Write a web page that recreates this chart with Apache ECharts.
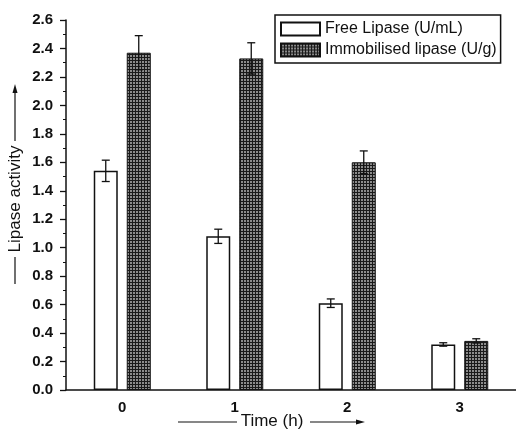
<!DOCTYPE html>
<html>
<head>
<meta charset="utf-8">
<script src="https://cdn.jsdelivr.net/npm/echarts@6/dist/echarts.min.js"></script>
<style>
  html, body { margin: 0; padding: 0; background: #fff; }
  #chart { width: 516px; height: 429px; }
</style>
</head>
<body>
<div id="chart"></div>
<script>
// data
var categories = ["0", "1", "2", "3"];
var freeLipase = [1.54, 1.08, 0.61, 0.32];
var freeErr = [0.075, 0.05, 0.03, 0.012];
var immobLipase = [2.37, 2.33, 1.60, 0.345];
var immobErr = [0.12, 0.11, 0.08, 0.015];

// checkered fill for the immobilised bars
function makePattern() {
  var c = document.createElement("canvas");
  c.width = 3;
  c.height = 3;
  var ctx = c.getContext("2d");
  ctx.fillStyle = "#1a1a1a";
  ctx.fillRect(0, 0, 3, 3);
  ctx.fillStyle = "#8c8c8c";
  ctx.fillRect(1, 1, 2, 2);
  return c;
}
var pattern = { image: makePattern(), repeat: "repeat" };

function errData(vals, errs) {
  return vals.map(function (v, i) {
    return [i, v - errs[i], v + errs[i]];
  });
}

// error bar drawn at the bar center (offset in px from category center)
function errRender(offset) {
  return function (params, api) {
    var x = api.coord([api.value(0), 0])[0] + offset;
    var lo = api.coord([api.value(0), api.value(1)])[1];
    var hi = api.coord([api.value(0), api.value(2)])[1];
    var w = 4;
    var st = { stroke: "#111", lineWidth: 1.3 };
    return {
      type: "group",
      children: [
        { type: "line", shape: { x1: x, y1: lo, x2: x, y2: hi }, style: st },
        { type: "line", shape: { x1: x - w, y1: hi, x2: x + w, y2: hi }, style: st },
        { type: "line", shape: { x1: x - w, y1: lo, x2: x + w, y2: lo }, style: st }
      ]
    };
  };
}

var myChart = echarts.init(document.getElementById("chart"));
myChart.setOption({
  animation: false,
  textStyle: { fontFamily: "Liberation Sans, Arial, sans-serif", color: "#111" },
  grid: { left: 66, right: -6, top: 20, bottom: 39 },
  legend: {
    data: ["Free Lipase (U/mL)", "Immobilised lipase (U/g)"],
    orient: "vertical",
    left: 275,
    top: 15,
    padding: [6, 4, 5, 5],
    itemGap: 5,
    itemWidth: 39,
    itemHeight: 13,
    icon: "rect",
    borderColor: "#111",
    borderWidth: 1.5,
    borderRadius: 0,
    textStyle: { fontSize: 16, color: "#111", fontFamily: "Liberation Sans, Arial, sans-serif" }
  },
  xAxis: {
    type: "category",
    data: categories,
    axisLine: { lineStyle: { color: "#111", width: 1.5 } },
    axisTick: { alignWithLabel: true, length: 5, lineStyle: { color: "#111", width: 1.5 } },
    axisLabel: { fontSize: 15, fontWeight: "bold", color: "#111", margin: 10 }
  },
  yAxis: {
    type: "value",
    min: 0,
    max: 2.6,
    interval: 0.2,
    splitLine: { show: false },
    axisLine: { show: true, lineStyle: { color: "#111", width: 1.5 } },
    axisTick: { show: true, length: 6, lineStyle: { color: "#111", width: 1.3 } },
    minorTick: { show: true, splitNumber: 2, length: 3, lineStyle: { color: "#111", width: 1 } },
    axisLabel: {
      fontSize: 15,
      fontWeight: "bold",
      color: "#111",
      margin: 13,
      formatter: function (v) { return v.toFixed(1); }
    }
  },
  graphic: [
    // y axis title with arrow
    {
      type: "text", x: 15, y: 199, rotation: Math.PI / 2,
      style: { text: "Lipase activity", fontSize: 17, fill: "#111", align: "center", verticalAlign: "middle",
               fontFamily: "Liberation Sans, Arial, sans-serif" }
    },
    { type: "line", shape: { x1: 15, y1: 257, x2: 15, y2: 284 }, style: { stroke: "#111", lineWidth: 1.2 } },
    { type: "line", shape: { x1: 15, y1: 141, x2: 15, y2: 90 }, style: { stroke: "#111", lineWidth: 1.2 } },
    { type: "polygon", shape: { points: [[15, 84], [12.5, 93], [17.5, 93]] }, style: { fill: "#111" } },
    // x axis title with arrow
    {
      type: "text", x: 272, y: 421,
      style: { text: "Time (h)", fontSize: 17, fill: "#111", align: "center", verticalAlign: "middle",
               fontFamily: "Liberation Sans, Arial, sans-serif" }
    },
    { type: "line", shape: { x1: 178, y1: 422, x2: 237, y2: 422 }, style: { stroke: "#111", lineWidth: 1.2 } },
    { type: "line", shape: { x1: 310, y1: 422, x2: 358, y2: 422 }, style: { stroke: "#111", lineWidth: 1.2 } },
    { type: "polygon", shape: { points: [[365, 422], [356, 419.5], [356, 424.5]] }, style: { fill: "#111" } }
  ],
  series: [
    {
      name: "Free Lipase (U/mL)",
      type: "bar",
      data: freeLipase,
      barWidth: 24,
      barGap: "37.5%",
      itemStyle: { color: "#fff", borderColor: "#111", borderWidth: 1.5 }
    },
    {
      name: "Immobilised lipase (U/g)",
      type: "bar",
      data: immobLipase,
      barWidth: 24,
      barGap: "37.5%",
      itemStyle: { color: pattern, borderColor: "#111", borderWidth: 1 }
    },
    {
      name: "freeErr",
      type: "custom",
      data: errData(freeLipase, freeErr),
      encode: { x: 0, y: [1, 2] },
      renderItem: errRender(-16.5),
      z: 5
    },
    {
      name: "immobErr",
      type: "custom",
      data: errData(immobLipase, immobErr),
      encode: { x: 0, y: [1, 2] },
      renderItem: errRender(16.5),
      z: 5
    }
  ]
});
</script>
</body>
</html>
